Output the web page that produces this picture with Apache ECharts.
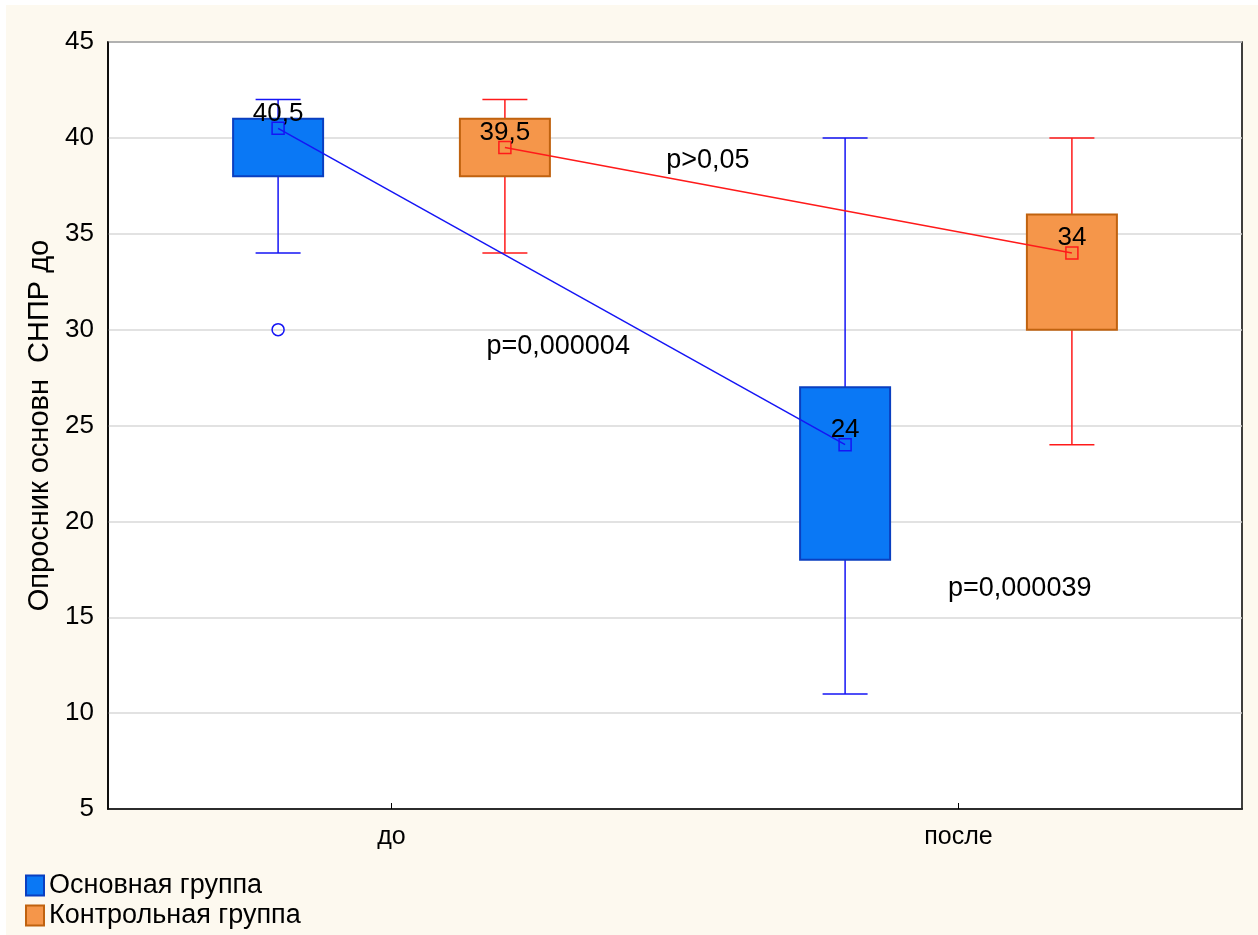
<!DOCTYPE html>
<html>
<head>
<meta charset="utf-8">
<script src="https://cdn.jsdelivr.net/npm/echarts@6/dist/echarts.min.js"></script>
<style>
html, body { margin: 0; padding: 0; background: #fff; }
#chart { width: 1258px; height: 935px; }
</style>
</head>
<body>
<div id="chart"></div>
<script>
const categories = ['до', 'после'];
const groups = ['Основная группа', 'Контрольная группа'];
// positions on the hidden value axis (category centres are 0.5 and 1.5)
const mainX = [0.3, 1.3];
const ctrlX = [0.7, 1.7];
// min, q1, median, q3, max
const mainStats = [[34, 38, 40.5, 41, 42], [11, 18, 24, 27, 40]];
const ctrlStats = [[34, 38, 39.5, 41, 42], [24, 30, 34, 36, 40]];
const mainOutliers = [[0.3, 30]];
const pTexts = ['p=0,000004', 'p>0,05', 'p=0,000039'];
const pX = [0.794, 1.058, 1.608];
const pY = [29.1, 38.8, 16.5];

const FONT = '"Liberation Sans", Arial, sans-serif';
const blue = { fill: '#0a78f5', border: '#0a3fc0', line: '#1515f5' };
const orange = { fill: '#f5964a', border: '#c0620f', line: '#ff1a1a' };

function boxRenderer(col) {
	return function (params, api) {
		const x = api.value(0);
		const lo = api.coord([x, api.value(1)]);
		const q1 = api.coord([x, api.value(2)]);
		const q3 = api.coord([x, api.value(4)]);
		const hi = api.coord([x, api.value(5)]);
		const bw = 90, cw = 45;
		const ws = { stroke: col.line, lineWidth: 1.5 };
		return {
			type: 'group',
			children: [
				{ type: 'line', shape: { x1: lo[0], y1: lo[1], x2: hi[0], y2: hi[1] }, style: ws },
				{ type: 'line', shape: { x1: lo[0] - cw / 2, y1: lo[1], x2: lo[0] + cw / 2, y2: lo[1] }, style: ws },
				{ type: 'line', shape: { x1: hi[0] - cw / 2, y1: hi[1], x2: hi[0] + cw / 2, y2: hi[1] }, style: ws },
				{
					type: 'rect',
					shape: { x: q3[0] - bw / 2, y: q3[1], width: bw, height: q1[1] - q3[1] },
					style: { fill: col.fill, stroke: col.border, lineWidth: 2 }
				}
			]
		};
	};
}

function fmtNum(v) {
	return String(v).replace('.', ',');
}

const medianLabel = {
	show: true,
	position: 'top',
	distance: -5,
	color: '#000',
	fontFamily: FONT,
	fontSize: 26,
	formatter: p => fmtNum(p.value[1])
};

var myChart = echarts.init(document.getElementById('chart'));
myChart.setOption({
	backgroundColor: '#fdf9ef',
	animation: false,
	textStyle: { fontFamily: FONT },
	graphic: [
		{ type: 'rect', left: 0, top: 0, shape: { width: 6, height: 935 }, style: { fill: '#fff' } },
		{ type: 'rect', left: 0, top: 0, shape: { width: 1258, height: 5 }, style: { fill: '#fff' } }
	],
	grid: {
		left: 108,
		top: 42,
		right: 16,
		bottom: 126,
		show: true,
		backgroundColor: '#fff',
		borderColor: '#000',
		borderWidth: 1.5
	},
	legend: {
		orient: 'vertical',
		left: 20,
		top: 867,
		itemWidth: 18,
		itemHeight: 20,
		itemGap: 3,
		icon: 'rect',
		textStyle: { fontSize: 27, color: '#000', fontFamily: FONT },
		data: [
			{ name: groups[0], itemStyle: { color: blue.fill, borderColor: blue.border, borderWidth: 2 } },
			{ name: groups[1], itemStyle: { color: orange.fill, borderColor: orange.border, borderWidth: 2 } }
		]
	},
	xAxis: [
		{
			type: 'category',
			data: categories,
			boundaryGap: true,
			axisLine: { lineStyle: { color: '#000', width: 1.5 } },
			axisTick: { show: true, inside: true, length: 6, alignWithLabel: true, lineStyle: { color: '#000' } },
			axisLabel: { fontSize: 25, color: '#000', margin: 16, fontFamily: FONT },
			splitLine: { show: false }
		},
		{
			type: 'value',
			min: 0,
			max: 2,
			show: false
		}
	],
	yAxis: {
		type: 'value',
		min: 5,
		max: 45,
		interval: 5,
		name: 'Опросник основн  СНПР до',
		nameLocation: 'middle',
		nameGap: 54,
		nameTextStyle: { fontSize: 29, color: '#000', fontFamily: FONT },
		axisLine: { show: true, lineStyle: { color: '#000', width: 1.5 } },
		axisTick: { show: false },
		axisLabel: { fontSize: 26, color: '#000', margin: 14, fontFamily: FONT },
		splitLine: { show: true, lineStyle: { color: '#d8d8d8', width: 1.5 } }
	},
	series: [
		{
			name: groups[0],
			type: 'custom',
			xAxisIndex: 1,
			renderItem: boxRenderer(blue),
			itemStyle: { color: blue.fill },
			data: mainX.map((x, i) => [x].concat(mainStats[i])),
			z: 2
		},
		{
			name: groups[1],
			type: 'custom',
			xAxisIndex: 1,
			renderItem: boxRenderer(orange),
			itemStyle: { color: orange.fill },
			data: ctrlX.map((x, i) => [x].concat(ctrlStats[i])),
			z: 2
		},
		{
			name: groups[0],
			type: 'line',
			xAxisIndex: 1,
			symbol: 'rect',
			symbolSize: 12,
			showAllSymbol: true,
			lineStyle: { color: blue.line, width: 1.5 },
			itemStyle: { color: 'transparent', borderColor: blue.line, borderWidth: 1.5 },
			label: medianLabel,
			data: mainX.map((x, i) => [x, mainStats[i][2]]),
			z: 5
		},
		{
			name: groups[1],
			type: 'line',
			xAxisIndex: 1,
			symbol: 'rect',
			symbolSize: 12,
			showAllSymbol: true,
			lineStyle: { color: orange.line, width: 1.5 },
			itemStyle: { color: 'transparent', borderColor: orange.line, borderWidth: 1.5 },
			label: medianLabel,
			data: ctrlX.map((x, i) => [x, ctrlStats[i][2]]),
			z: 5
		},
		{
			name: groups[0],
			type: 'scatter',
			xAxisIndex: 1,
			symbol: 'circle',
			symbolSize: 12,
			itemStyle: { color: 'transparent', borderColor: blue.line, borderWidth: 1.5, opacity: 1 },
			data: mainOutliers,
			z: 5
		},
		{
			type: 'scatter',
			xAxisIndex: 1,
			symbolSize: 0,
			silent: true,
			itemStyle: { opacity: 1 },
			label: {
				show: true,
				position: 'inside',
				color: '#000',
				fontSize: 27,
				fontFamily: FONT,
				formatter: p => p.name
			},
			data: pTexts.map((t, i) => ({ name: t, value: [pX[i], pY[i]] })),
			z: 6
		}
	]
});
</script>
</body>
</html>
